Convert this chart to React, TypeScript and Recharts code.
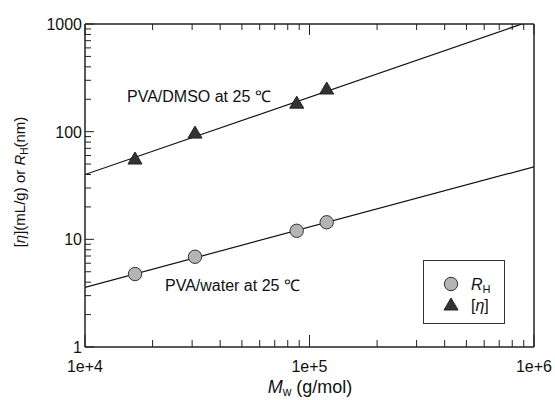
import React from "react"
import {
  ComposedChart,
  Customized,
  Legend,
  Line,
  Scatter,
  XAxis,
  YAxis,
} from "recharts"

// molecular weight of each PVA sample (g/mol)
const mwValues = [16700, 30900, 87700, 119300]
// hydrodynamic radius in water (nm)
const rhValues = [4.76, 6.89, 12.0, 14.4]
// intrinsic viscosity in DMSO (mL/g)
const etaValues = [55.7, 97, 184, 249]

// fitted power-law lines, read at the plot edges
const fitX = [10000, 1000000]
const waterFit = [3.58, 47.2]
const dmsoFit = [40, 1094]

const xTicks = [
  10000, 20000, 30000, 40000, 50000, 60000, 70000, 80000, 90000,
  100000, 200000, 300000, 400000, 500000, 600000, 700000, 800000, 900000,
  1000000,
]
const xMajor = [10000, 100000, 1000000]
const xLabels = ["1e+4", "1e+5", "1e+6"]
const yTicks = [
  1, 2, 3, 4, 5, 6, 7, 8, 9, 10, 20, 30, 40, 50, 60, 70, 80, 90, 100, 200,
  300, 400, 500, 600, 700, 800, 900, 1000,
]
const yMajor = [1, 10, 100, 1000]
const rightTicks = [1, 2, 3]

const rhData = mwValues.map((x, i) => ({ x, y: rhValues[i] }))
const etaData = mwValues.map((x, i) => ({ x, y: etaValues[i] }))
const waterLine = fitX.map((x, i) => ({ x, y: waterFit[i] }))
const dmsoLine = fitX.map((x, i) => ({ x, y: dmsoFit[i] }))

const INK = "#222"
const FONT = "'Liberation Sans', Arial, sans-serif"

function BottomTick({ x, y, payload }: any) {
  const major = xMajor.includes(payload.value)
  const idx = xMajor.indexOf(payload.value)
  return (
    <g>
      <line x1={x} x2={x} y1={y} y2={y - (major ? 12 : 7)} stroke={INK} strokeWidth={1} />
      {major && (
        <text x={x} y={y + 25} textAnchor="middle" fontSize={16} fill="#111" fontFamily={FONT}>
          {xLabels[idx]}
        </text>
      )}
    </g>
  )
}

function TopTick({ x, y, payload }: any) {
  const major = xMajor.includes(payload.value)
  return <line x1={x} x2={x} y1={y} y2={y + (major ? 11 : 6)} stroke={INK} strokeWidth={1} />
}

function LeftTick({ x, y, payload }: any) {
  const major = yMajor.includes(payload.value)
  return (
    <g>
      <line x1={x} x2={x + (major ? 9 : 6)} y1={y} y2={y} stroke={INK} strokeWidth={1} />
      {major && (
        <text x={x - 3} y={y + 6} textAnchor="end" fontSize={16} fill="#111" fontFamily={FONT}>
          {payload.value}
        </text>
      )}
    </g>
  )
}

function RightTick({ x, y }: any) {
  return <line x1={x} x2={x - 9} y1={y} y2={y} stroke={INK} strokeWidth={1} />
}

function CircleMark({ cx, cy }: any) {
  return <circle cx={cx} cy={cy} r={6.7} fill="#b4b4b4" stroke="#333" strokeWidth={1} />
}

function TriangleMark({ cx, cy }: any) {
  return (
    <polygon
      points={`${cx},${cy - 7} ${cx - 7},${cy + 5} ${cx + 7},${cy + 5}`}
      fill="#333"
      stroke="#222"
      strokeWidth={1}
    />
  )
}

function LegendBox() {
  return (
    <div
      style={{
        width: 82,
        height: 64,
        border: "1px solid #333",
        background: "#fff",
        boxSizing: "border-box",
        position: "relative",
      }}
    >
      <svg width={82} height={64} style={{ position: "absolute", left: 0, top: 0 }}>
        <CircleMark cx={27} cy={23} />
        <TriangleMark cx={27} cy={44} />
        <text x={47} y={29} fontSize={16} fontFamily={FONT} fill="#111">
          <tspan fontStyle="italic">R</tspan>
          <tspan fontSize={11} dy={3}>H</tspan>
        </text>
        <text x={47} y={50} fontSize={16} fontFamily={FONT} fill="#111">
          [<tspan fontStyle="italic">η</tspan>]
        </text>
      </svg>
    </div>
  )
}

function Annotations() {
  return (
    <g fontFamily={FONT} fill="#111">
      <text x={127} y={102} fontSize={16}>PVA/DMSO at 25 ℃</text>
      <text x={165} y={291} fontSize={16}>PVA/water at 25 ℃</text>
      <text x={310} y={393} textAnchor="middle" fontSize={18}>
        <tspan fontStyle="italic">M</tspan>
        <tspan fontSize={12} dy={3}>w</tspan>
        <tspan dy={-3}> (g/mol)</tspan>
      </text>
      <text x={25} y={182} textAnchor="middle" fontSize={15} transform="rotate(-90 25 182)">
        [<tspan fontStyle="italic">η</tspan>](mL/g) or <tspan fontStyle="italic">R</tspan>
        <tspan fontSize={10} dy={3}>H</tspan>
        <tspan dy={-3}>(nm)</tspan>
      </text>
    </g>
  )
}

export default function App() {
  return (
    <div style={{ position: "absolute", left: 0, top: 0, background: "#fff" }}>
      <ComposedChart width={555} height={400} margin={{ top: 0, right: 0, bottom: 0, left: 0 }}>
        <XAxis
          xAxisId="bottom"
          dataKey="x"
          type="number"
          scale="log"
          domain={[10000, 1000000]}
          ticks={xTicks}
          interval={0}
          height={53}
          tickSize={0}
          tickMargin={0}
          tickLine={false}
          axisLine={{ stroke: INK, strokeWidth: 1.5 }}
          tick={<BottomTick />}
          allowDataOverflow
        />
        <XAxis
          xAxisId="top"
          orientation="top"
          dataKey="x"
          type="number"
          scale="log"
          domain={[10000, 1000000]}
          ticks={xTicks}
          interval={0}
          height={24}
          tickSize={0}
          tickMargin={0}
          tickLine={false}
          axisLine={{ stroke: INK, strokeWidth: 1.5 }}
          tick={<TopTick />}
          allowDataOverflow
        />
        <YAxis
          yAxisId="left"
          dataKey="y"
          type="number"
          scale="log"
          domain={[1, 1000]}
          ticks={yTicks}
          interval={0}
          width={85}
          tickSize={0}
          tickMargin={0}
          tickLine={false}
          axisLine={{ stroke: INK, strokeWidth: 1.5 }}
          tick={<LeftTick />}
          allowDataOverflow
        />
        <YAxis
          yAxisId="right"
          orientation="right"
          type="number"
          domain={[0, 4]}
          ticks={rightTicks}
          interval={0}
          width={21}
          tickSize={0}
          tickMargin={0}
          tickLine={false}
          axisLine={{ stroke: INK, strokeWidth: 1.5 }}
          tick={<RightTick />}
        />
        <Line
          xAxisId="bottom"
          yAxisId="left"
          data={dmsoLine}
          dataKey="y"
          stroke="#111"
          strokeWidth={1.2}
          dot={false}
          isAnimationActive={false}
          legendType="none"
        />
        <Line
          xAxisId="bottom"
          yAxisId="left"
          data={waterLine}
          dataKey="y"
          stroke="#111"
          strokeWidth={1.2}
          dot={false}
          isAnimationActive={false}
          legendType="none"
        />
        <Scatter
          xAxisId="bottom"
          yAxisId="left"
          data={rhData}
          dataKey="y"
          name="RH"
          shape={<CircleMark />}
          isAnimationActive={false}
        />
        <Scatter
          xAxisId="bottom"
          yAxisId="left"
          data={etaData}
          dataKey="y"
          name="[η]"
          shape={<TriangleMark />}
          isAnimationActive={false}
        />
        <Legend
          layout="vertical"
          align="center"
          verticalAlign="middle"
          content={() => <LegendBox />}
          wrapperStyle={{ left: 423, top: 260, width: 82, height: 64 }}
        />
        <Customized component={Annotations} />
      </ComposedChart>
    </div>
  )
}
